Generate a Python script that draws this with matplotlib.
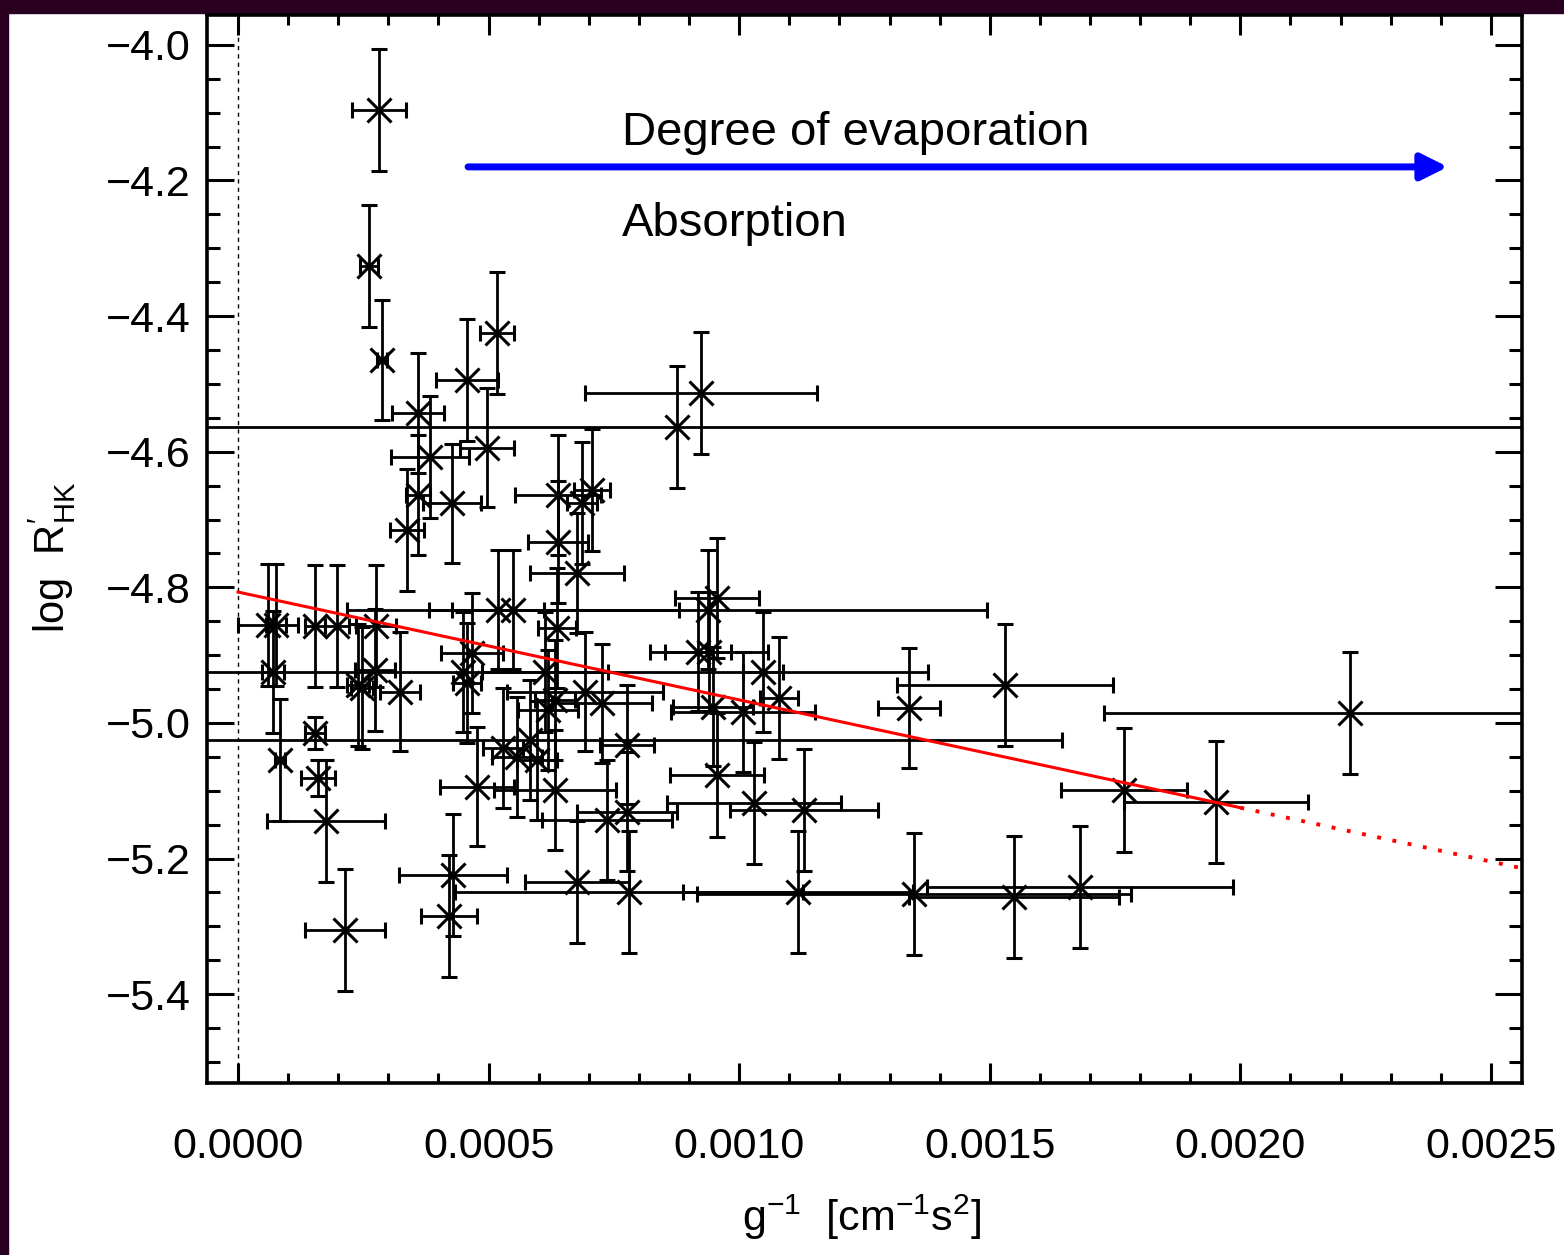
import matplotlib
matplotlib.use("Agg")
import matplotlib.pyplot as plt
from matplotlib.patches import Rectangle
from matplotlib.ticker import MultipleLocator, FuncFormatter

plt.rcParams["font.family"] = ["Liberation Sans", "DejaVu Sans"]
plt.rcParams["mathtext.default"] = "regular"

# inverse surface gravity g^-1 [cm^-1 s^2] and its error
G_INV = [0.000281, 0.000261, 0.000287, 0.000517, 0.000457, 0.000924, 0.000876, 0.000359,
         0.000497, 0.000383, 0.000359, 0.000427, 0.000337, 0.000639, 0.000706, 0.000686,
         0.000639, 0.000676, 0.000519, 0.000549, 0.000637, 0.000467, 0.000449, 0.000457,
         0.000613, 0.000633, 0.000619, 0.000692, 0.000726, 0.000583, 0.000529, 0.000557,
         0.000597, 0.000776, 0.000477, 0.000633, 0.000736, 0.000776, 0.000938, 0.000956,
         0.000918, 0.000940, 0.001048, 0.001079, 0.000948, 0.001008, 0.000956, 0.001030,
         0.001129, 0.001339, 0.001530, 0.001768, 0.001951, 0.002219, 0.000676, 0.000780,
         0.001117, 0.001349, 0.001548, 0.001680, 0.000214, 0.000429, 0.000421, 0.000060,
         0.000076, 0.000154, 0.000198, 0.000275, 0.000070, 0.000273, 0.000239, 0.000247,
         0.000323, 0.000084, 0.000154, 0.000160, 0.000176]
G_INV_ERR = [0.000054, 0.000018, 0.000010, 0.000034, 0.000062, 0.000231, 0.003000, 0.000052,
             0.000054, 0.000078, 0.000024, 0.000058, 0.000034, 0.000086, 0.000036, 0.000030,
             0.000060, 0.000094, 0.000092, 0.000331, 0.000038, 0.000062, 0.000928, 0.000028,
             0.000126, 0.000040, 0.000060, 0.000156, 0.000100, 0.001062, 0.000040, 0.000050,
             0.000040, 0.000054, 0.000074, 0.000122, 0.000130, 0.000100, 0.000557, 0.000084,
             0.000066, 0.000118, 0.000040, 0.000038, 0.000080, 0.000144, 0.000094, 0.000174,
             0.000148, 0.000062, 0.000216, 0.000126, 0.000184, 0.000491, 0.000104, 0.000347,
             0.000229, 0.000433, 0.000210, 0.000305, 0.000080, 0.000108, 0.000056, 0.000060,
             0.000020, 0.000020, 0.000024, 0.000040, 0.000022, 0.000040, 0.000022, 0.000022,
             0.000040, 0.000010, 0.000020, 0.000034, 0.000118]

# chromospheric activity log R'HK and its error
LOG_RHK = [-4.096, -4.326, -4.465, -4.425, -4.494, -4.513, -4.563, -4.543,
           -4.594, -4.608, -4.664, -4.676, -4.715, -4.664, -4.656, -4.676,
           -4.733, -4.779, -4.833, -4.833, -4.860, -4.897, -4.925, -4.941,
           -4.925, -4.966, -4.981, -4.954, -4.971, -5.025, -5.037, -5.050,
           -5.055, -5.032, -5.094, -5.099, -5.143, -5.131, -4.833, -4.816,
           -4.895, -4.895, -4.925, -4.963, -4.976, -4.984, -5.077, -5.118,
           -5.128, -4.978, -4.944, -5.099, -5.117, -4.985, -5.235, -5.249,
           -5.249, -5.252, -5.257, -5.242, -5.305, -5.224, -5.285, -4.856,
           -4.856, -4.857, -4.857, -4.857, -4.925, -4.922, -4.944, -4.948,
           -4.954, -5.055, -5.015, -5.081, -5.145]
LOG_RHK_ERR = [0.090, 0.090, 0.088, 0.090, 0.090, 0.090, 0.090, 0.088,
               0.088, 0.090, 0.088, 0.088, 0.090, 0.088, 0.090, 0.090,
               0.090, 0.088, 0.088, 0.088, 0.088, 0.088, 0.088, 0.088,
               0.088, 0.088, 0.088, 0.088, 0.088, 0.088, 0.088, 0.088,
               0.088, 0.088, 0.088, 0.088, 0.088, 0.088, 0.088, 0.088,
               0.088, 0.088, 0.088, 0.090, 0.088, 0.088, 0.091, 0.090,
               0.090, 0.088, 0.090, 0.091, 0.090, 0.090, 0.090, 0.090,
               0.090, 0.090, 0.090, 0.090, 0.090, 0.090, 0.090, 0.090,
               0.090, 0.090, 0.090, 0.090, 0.090, 0.090, 0.090, 0.090,
               0.088, 0.090, 0.024, 0.027, 0.090]

# linear fit: solid over the data range, dotted extrapolation
FIT_X_SOLID = [0.0, 0.0020]
FIT_Y_SOLID = [-4.807, -5.125]
FIT_X_DOTTED = [0.0020, 0.00256]
FIT_Y_DOTTED = [-5.125, -5.214]

# arrow: start/end in g^-1, height in log R'HK
ARROW_X = [0.000459, 0.002414]
ARROW_Y = -4.180

BG = "#2a0020"

fig = plt.figure(figsize=(15.64, 12.55), dpi=100)
fig.patch.set_facecolor("white")
fig.add_artist(Rectangle((0, 1 - 13 / 1255), 1, 13 / 1255, transform=fig.transFigure,
                         color=BG, zorder=0))
fig.add_artist(Rectangle((0, 0), 8 / 1564, 1, transform=fig.transFigure, color=BG, zorder=0))

ax = fig.add_axes([207 / 1564, 1 - 1083 / 1255, 1315 / 1564, 1068 / 1255])

ax.axvline(0, color="black", lw=1.0, ls=(0, (3, 3)), zorder=1)

ax.errorbar(G_INV, LOG_RHK, xerr=G_INV_ERR, yerr=LOG_RHK_ERR, fmt="x", color="black",
            ms=17, mew=2.2, elinewidth=2.0, capsize=6, capthick=2.0, zorder=3)

ax.plot(FIT_X_SOLID, FIT_Y_SOLID, color="red", lw=2.2, zorder=4)
ax.plot(FIT_X_DOTTED, FIT_Y_DOTTED, color="red", lw=2.8, ls=(0, (1, 3)), zorder=4)

ax.annotate("", xy=(ARROW_X[1], ARROW_Y), xytext=(ARROW_X[0], ARROW_Y),
            arrowprops=dict(arrowstyle="-|>", color="blue", lw=5, mutation_scale=40,
                            shrinkA=0, shrinkB=0), zorder=5)
ax.text(0.000766, -4.1475, "Degree of evaporation", fontsize=34, ha="left", va="baseline")
ax.text(0.000766, -4.2817, "Absorption", fontsize=34, ha="left", va="baseline")

ax.set_xlim(-0.0000619, 0.002562)
ax.set_ylim(-5.531, -3.956)

ax.xaxis.set_major_locator(MultipleLocator(0.0005))
ax.xaxis.set_minor_locator(MultipleLocator(0.0001))
ax.yaxis.set_major_locator(MultipleLocator(0.2))
ax.yaxis.set_minor_locator(MultipleLocator(0.05))
ax.xaxis.set_major_formatter(FuncFormatter(lambda v, p: f"{v:.4f}".replace("-", "\u2212")))
ax.yaxis.set_major_formatter(FuncFormatter(lambda v, p: f"{v:.1f}".replace("-", "\u2212")))

ax.tick_params(which="both", direction="in", top=True, right=True, width=2.2,
               labelsize=31)
ax.tick_params(axis="x", which="major", length=14.5, pad=32)
ax.tick_params(axis="x", which="minor", length=7.2)
ax.tick_params(axis="y", which="major", length=19.5, pad=12)
ax.tick_params(axis="y", which="minor", length=9.5)
for s in ax.spines.values():
    s.set_linewidth(2.6)

ax.set_xlabel(r"g$^{-1}$  [cm$^{-1}$s$^{2}$]", fontsize=31)
ax.xaxis.set_label_coords(0.498, -0.103)
ax.set_ylabel(r"log  R$^{\prime}_{HK}$", fontsize=30)
ax.yaxis.set_label_coords(-0.098, 0.4925)

fig.savefig("out.png", dpi=100)
